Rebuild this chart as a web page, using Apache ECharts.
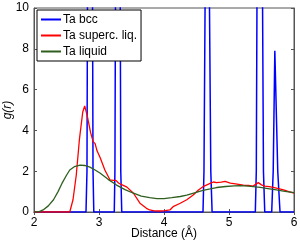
<!DOCTYPE html>
<html><head><meta charset="utf-8">
<script src="https://cdn.jsdelivr.net/npm/echarts@6/dist/echarts.min.js"></script>
<style>html,body{margin:0;padding:0;background:#fff}#c{width:300px;height:241px}</style>
</head><body><div id="c"></div>
<script>
const xTicks = [2, 3, 4, 5, 6];
const yTicks = [0, 2, 4, 6, 8, 10];
const seriesNames = ['Ta bcc', 'Ta superc. liq.', 'Ta liquid'];
// [distance, g(r)]
const bcc = [
  [2.00,0],[2.80,0],[2.815,2],[2.826,14],[2.897,14],[2.908,2],[2.92,0],
  [3.235,0],[3.245,2],[3.257,14],[3.323,14],[3.335,2],[3.35,0],
  [4.60,0],[4.615,2],[4.64,14],[4.69,14],[4.72,2],[4.74,0],
  [5.405,0],[5.42,2],[5.435,14],[5.51,14],[5.53,2],[5.55,0],
  [5.60,0],[5.657,0],[5.68,2],[5.705,7.9],[5.715,7.9],[5.75,2],[5.785,0],[6.00,0]
];
const superc = [
  [2.00,0],[2.55,0],[2.60,0.6],[2.65,1.8],[2.70,3.6],[2.75,4.9],[2.78,5.2],[2.82,4.7],
  [2.87,3.9],[2.91,3.45],[2.94,3.35],[2.97,3.0],[3.02,2.65],[3.09,2.06],[3.17,1.57],
  [3.22,1.55],[3.26,1.55],[3.30,1.42],[3.34,1.35],[3.37,1.32],[3.43,1.22],[3.53,0.92],
  [3.63,0.43],[3.73,0.18],[3.78,0.1],[3.85,0.06],[3.94,0.05],[4.02,0.07],[4.09,0.1],
  [4.14,0.26],[4.25,0.43],[4.35,0.6],[4.45,0.83],[4.53,1.08],[4.60,1.24],[4.71,1.4],
  [4.76,1.47],[4.81,1.44],[4.88,1.46],[4.94,1.5],[5.02,1.42],[5.10,1.38],[5.22,1.32],
  [5.30,1.3],[5.37,1.27],[5.45,1.44],[5.50,1.33],[5.55,1.27],[5.62,1.24],[5.68,1.21],
  [5.76,1.15],[5.84,1.08],[5.92,1.0],[6.00,0.92]
];
const liquid = [
  [2.00,0],[2.08,0.02],[2.14,0.1],[2.22,0.3],[2.30,0.6],[2.37,1.0],[2.43,1.4],[2.50,1.8],
  [2.55,2.06],[2.62,2.22],[2.71,2.3],[2.78,2.28],[2.86,2.2],[2.94,2.06],[3.02,1.9],
  [3.14,1.6],[3.27,1.32],[3.40,1.1],[3.53,0.92],[3.65,0.78],[3.78,0.7],[3.89,0.66],
  [4.00,0.66],[4.12,0.7],[4.25,0.76],[4.35,0.83],[4.47,0.94],[4.60,1.06],[4.71,1.13],
  [4.81,1.2],[4.95,1.25],[5.08,1.28],[5.17,1.29],[5.30,1.27],[5.48,1.21],[5.60,1.15],
  [5.73,1.08],[5.86,1.01],[6.00,0.95]
];
const chart = echarts.init(document.getElementById('c'), null, {renderer:'canvas'});
const font = 'Liberation Sans, Arial, sans-serif';
const axLine = {show:true, lineStyle:{color:'#555', width:1}};
chart.setOption({
  animation:false,
  grid:{left:34, right:6, top:8, bottom:29, containLabel:false, outerBoundsMode:'none',
        show:true, borderColor:'#555', borderWidth:1},
  legend:{
    data: seriesNames, orient:'vertical', left:37, top:10, padding:[3,4,3,4],
    borderColor:'#000', borderWidth:1, backgroundColor:'#fff', itemGap:3,
    itemWidth:20, itemHeight:2, icon:'rect',
    textStyle:{fontFamily:font, fontSize:12, lineHeight:13, color:'#000', padding:[0,0,0,-3]}
  },
  xAxis:[{
    type:'value', min:xTicks[0], max:xTicks[xTicks.length-1], interval:1,
    axisLine:axLine, axisTick:{show:true, inside:true, length:3, lineStyle:{color:'#555'}},
    splitLine:{show:false},
    axisLabel:{fontFamily:font, fontSize:12, color:'#000', margin:5},
    name:'Distance (Å)', nameLocation:'middle', nameGap:16, nameMoveOverlap:false,
    nameTextStyle:{fontFamily:font, fontSize:12, color:'#000'}
  },{
    type:'value', position:'top', min:2, max:6, interval:1,
    axisLine:axLine, axisTick:{show:true, inside:true, length:3, lineStyle:{color:'#555'}},
    axisLabel:{show:false}, splitLine:{show:false}
  }],
  yAxis:[{
    type:'value', min:yTicks[0], max:yTicks[yTicks.length-1], interval:2,
    axisLine:axLine, axisTick:{show:true, inside:true, length:3, lineStyle:{color:'#555'}},
    splitLine:{show:false},
    axisLabel:{fontFamily:font, fontSize:12, color:'#000', margin:5},
    name:'g(r)', nameLocation:'middle', nameGap:20, nameMoveOverlap:false,
    nameTextStyle:{fontFamily:font, fontSize:12, color:'#000', fontStyle:'italic'}
  },{
    type:'value', position:'right', min:0, max:10, interval:2,
    axisLine:axLine, axisTick:{show:true, inside:true, length:3, lineStyle:{color:'#555'}},
    axisLabel:{show:false}, splitLine:{show:false}
  }],
  series:[
    {name:seriesNames[0], type:'line', data:bcc, symbol:'none', clip:true,
     lineStyle:{color:'#0000ff', width:1.5}, itemStyle:{color:'#0000ff'}, z:2},
    {name:seriesNames[1], type:'line', data:superc, symbol:'none', clip:true,
     lineStyle:{color:'#ff0000', width:1.3}, itemStyle:{color:'#ff0000'}, z:3},
    {name:seriesNames[2], type:'line', data:liquid, symbol:'none', clip:true,
     lineStyle:{color:'#2f5f1f', width:1.3}, itemStyle:{color:'#2f5f1f'}, z:4}
  ]
});
</script></body></html>
